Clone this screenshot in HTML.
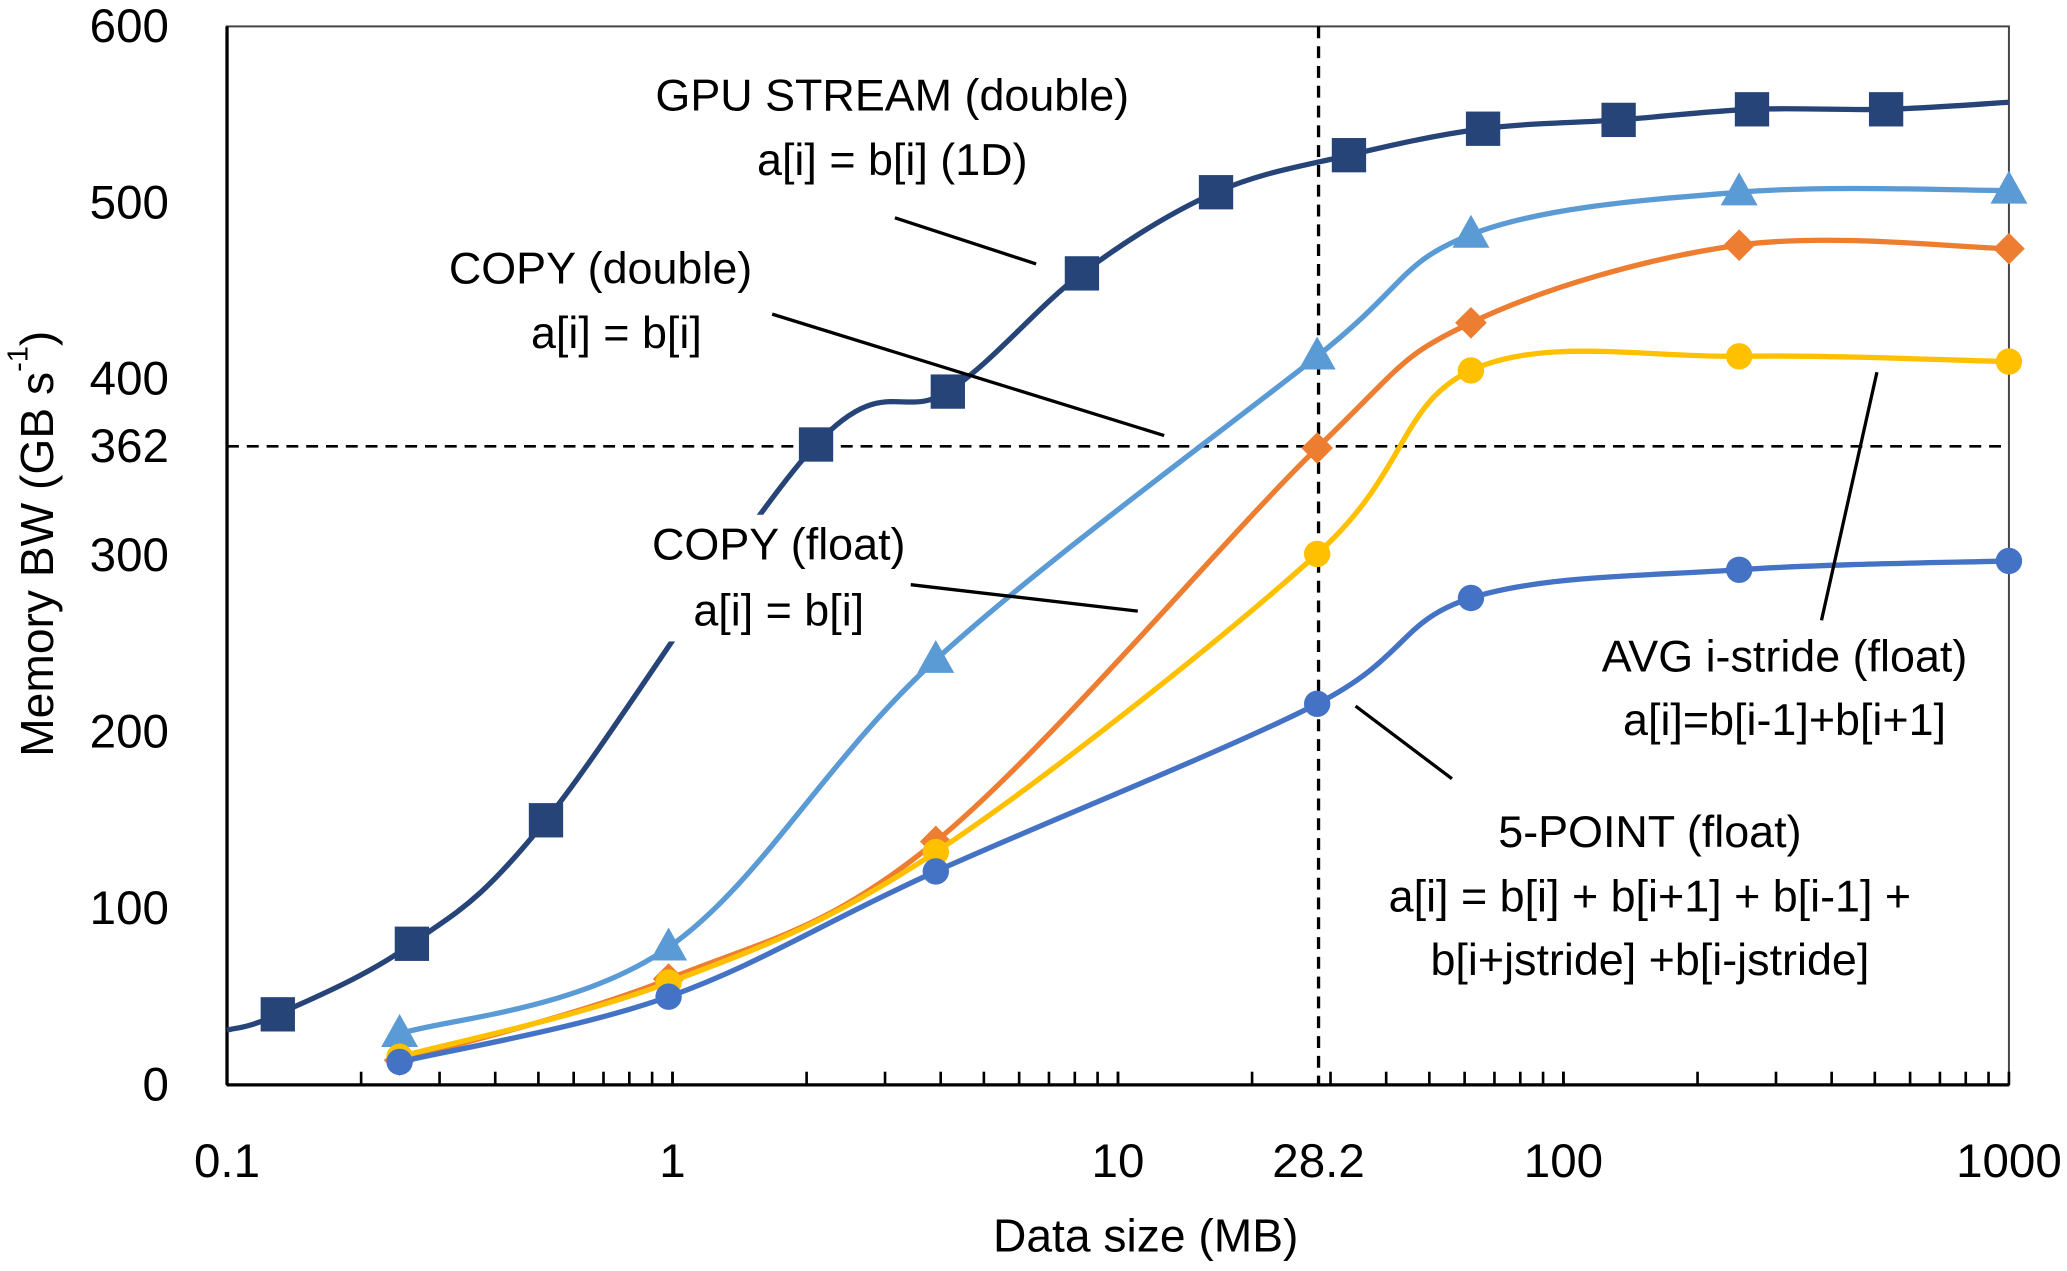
<!DOCTYPE html>
<html><head><meta charset="utf-8"><style>
html,body{margin:0;padding:0;background:#fff;}
svg{display:block;font-family:"Liberation Sans",sans-serif;}
</style></head><body>
<svg id="chart" width="2067" height="1271" viewBox="0 0 1566 963" preserveAspectRatio="none" xmlns="http://www.w3.org/2000/svg"></svg>
<script>
const xTicks = [0.1, 1, 10, 28.2, 100, 1000];
const xTickLabels = ["0.1", "1", "10", "28.2", "100", "1000"];
const yTicks = [0, 100, 200, 300, 362, 400, 500, 600];
const yTickLabels = ["0", "100", "200", "300", "362", "400", "500", "600"];
const gpuX = [0.1, 0.13, 0.26, 0.52, 2.1, 4.15, 8.3, 16.6, 33, 66, 133, 265, 530, 1000];
const gpuY = [31, 40, 80, 150, 363, 393, 460, 506, 527, 542, 547, 553, 553, 557];
const gpuMarked = [false, true, true, true, true, true, true, true, true, true, true, true, true, false];
const sizeX = [0.244, 0.98, 3.9, 28, 62, 248, 1000];
const copyDoubleY = [29, 78, 241, 413, 482, 506, 507];
const copyFloatY = [14, 60, 138, 361, 432, 476, 474];
const avgY = [16, 58, 132, 301, 405, 413, 410];
const fivePointY = [13, 50, 121, 216, 276, 292, 297];
const hLine = 362, vLine = 28.2;

const svg = document.getElementById('chart');
const NS = 'http://www.w3.org/2000/svg';
const L = 172, R = 1522, T = 20, B = 822;
function sx(v){ return L + (Math.log10(v) + 1) / 4 * (R - L); }
function sy(v){ return B - v / 600 * (B - T); }
function mk(tag, attrs, parent){ const e = document.createElementNS(NS, tag); for (const k in attrs) e.setAttribute(k, attrs[k]); (parent || svg).appendChild(e); return e; }
function smooth(pts){
  let d = 'M' + pts[0][0] + ',' + pts[0][1];
  for (let i = 0; i < pts.length - 1; i++) {
    const p0 = pts[i-1] || pts[i], p1 = pts[i], p2 = pts[i+1], p3 = pts[i+2] || pts[i+1];
    const t = 0.17;
    d += ' C' + (p1[0] + (p2[0]-p0[0])*t) + ',' + (p1[1] + (p2[1]-p0[1])*t) + ' ' + (p2[0] - (p3[0]-p1[0])*t) + ',' + (p2[1] - (p3[1]-p1[1])*t) + ' ' + p2[0] + ',' + p2[1];
  }
  return d;
}

const frame = mk('rect', {x:L, y:T, width:R-L, height:B-T, fill:'none', stroke:'#444', 'stroke-width':1.5});


const xAxis = mk('line', {x1:L, y1:B, x2:R, y2:B, stroke:'#000', 'stroke-width':2.5});


const yAxis = mk('line', {x1:L, y1:T, x2:L, y2:B, stroke:'#000', 'stroke-width':2.5});



for (let dec = 0.1; dec < 1000; dec *= 10) {
  for (let m = 1; m <= 10; m++) {
    const x = sx(dec * m);
    const tk = mk('line', {x1:x, y1:B, x2:x, y2:B-10, stroke:'#000', 'stroke-width':2});
    
    
  }
}
xTicks.forEach((v, i) => {
  const t = mk('text', {x:sx(v), y:880, 'font-size':36, 'text-anchor':'middle', 'dominant-baseline':'central', fill:'#000'});
  t.textContent = xTickLabels[i];
  
  
});
yTicks.forEach((v, i) => {
  const t = mk('text', {x:128, y:sy(v), 'font-size':36, 'text-anchor':'end', 'dominant-baseline':'central', fill:'#000'});
  t.textContent = yTickLabels[i];
  
  
});
const xt = mk('text', {x:868, y:936, 'font-size':35, 'text-anchor':'middle', 'dominant-baseline':'central'});
xt.textContent = 'Data size (MB)';


const yt = mk('text', {x:0, y:0, 'font-size':35, 'text-anchor':'middle', 'dominant-baseline':'central', transform:'translate(28,412) rotate(-90)'});
yt.innerHTML = 'Memory BW (GB s<tspan font-size="22" dy="-14">-1</tspan><tspan dy="14">)</tspan>';



const hl = mk('line', {x1:L, y1:sy(hLine), x2:R, y2:sy(hLine), stroke:'#000', 'stroke-width':2, 'stroke-dasharray':'9,6'});


const vl = mk('line', {x1:sx(vLine), y1:T, x2:sx(vLine), y2:B, stroke:'#000', 'stroke-width':2.5, 'stroke-dasharray':'9,6'});



function series(name, xs, ys, color, marker, marked){
  const g = mk('g', {});
  
  
  const pts = xs.map((x, i) => [sx(x), sy(ys[i])]);
  const p = mk('path', {d:smooth(pts), fill:'none', stroke:color, 'stroke-width':4}, g);
  
  
  pts.forEach((q, i) => {
    if (marked && !marked[i]) return;
    let m;
    if (marker === 'square') m = mk('rect', {x:q[0]-13, y:q[1]-13, width:26, height:26, fill:color}, g);
    else if (marker === 'triangle') m = mk('polygon', {points:(q[0])+','+(q[1]-15)+' '+(q[0]-14)+','+(q[1]+10)+' '+(q[0]+14)+','+(q[1]+10), fill:color}, g);
    else if (marker === 'diamond') m = mk('polygon', {points:(q[0])+','+(q[1]-12)+' '+(q[0]+12)+','+q[1]+' '+q[0]+','+(q[1]+12)+' '+(q[0]-12)+','+q[1], fill:color}, g);
    else m = mk('circle', {cx:q[0], cy:q[1], r:10, fill:color}, g);
    
    
  });
}
series('gpu-stream-double', gpuX, gpuY, '#264478', 'square', gpuMarked);
series('copy-double', sizeX, copyDoubleY, '#5B9BD5', 'triangle');
series('copy-float', sizeX, copyFloatY, '#ED7D31', 'diamond');
series('avg-i-stride-float', sizeX, avgY, '#FFC000', 'circle');
series('five-point-float', sizeX, fivePointY, '#4472C4', 'circle');

const wb = mk('rect', {x:488, y:390, width:204, height:96, fill:'#fff'});



const leaders = [[678,165,785,200],[585,238,882,330],[690,443,862,463],[1027,535,1100,590],[1380,470,1422,282]];
leaders.forEach(l => {
  const e = mk('line', {x1:l[0], y1:l[1], x2:l[2], y2:l[3], stroke:'#000', 'stroke-width':2.5});
  
  
});
const labels = [
  ['gpu-stream-label', 676, 72, 'GPU STREAM (double)'], ['gpu-stream-formula', 676, 121, 'a[i] = b[i] (1D)'],
  ['copy-double-label', 455, 203, 'COPY (double)'], ['copy-double-formula', 467, 252, 'a[i] = b[i]'],
  ['copy-float-label', 590, 412, 'COPY (float)'], ['copy-float-formula', 590, 462, 'a[i] = b[i]'],
  ['avg-label', 1352, 497, 'AVG i-stride (float)'], ['avg-formula', 1352, 545, 'a[i]=b[i-1]+b[i+1]'],
  ['five-point-label', 1250, 630, '5-POINT (float)'], ['five-point-formula-1', 1250, 679, 'a[i] = b[i] + b[i+1] + b[i-1] +'],
  ['five-point-formula-2', 1250, 727, 'b[i+jstride] +b[i-jstride]']
];
labels.forEach(a => {
  const t = mk('text', {x:a[1], y:a[2], 'font-size':34, 'text-anchor':'middle', 'dominant-baseline':'central'});
  t.textContent = a[3];
  
  
});
</script>
</body></html>
